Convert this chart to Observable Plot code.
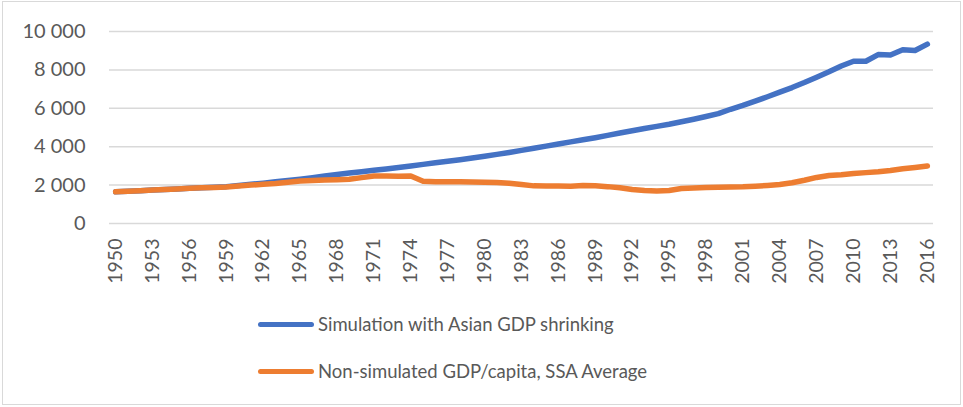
<!DOCTYPE html>
<html>
<head>
<meta charset="utf-8">
<script src="https://cdn.jsdelivr.net/npm/d3@7"></script>
<script src="https://cdn.jsdelivr.net/npm/@observablehq/plot@0.6"></script>
<style>
  html, body { margin: 0; padding: 0; background: #fff; }
  body { width: 963px; height: 407px; position: relative; overflow: hidden; font-family: Lato, "Open Sans", sans-serif; }
  #frame { position: absolute; left: 2px; top: 1px; width: 957px; height: 402px; border: 1px solid #d9d9d9; }
  #chart { position: absolute; left: 0; top: 0; }
  .leg { position: absolute; left: 258px; display: flex; align-items: center; font-size: 18.5px; color: #595959; }
  .leg .sw { width: 56px; height: 5px; border-radius: 3px; margin-right: 4px; }
</style>
</head>
<body>
<div id="frame"></div>
<div id="chart"></div>
<div class="leg" style="top:313px"><div class="sw" style="background:#4472C4"></div>Simulation with Asian GDP shrinking</div>
<div class="leg" style="top:360px"><div class="sw" style="background:#ED7D31"></div>Non-simulated GDP/capita, SSA Average</div>
<script>
const years = d3.range(1950, 2017);
const seriesNames = ["Simulation with Asian GDP shrinking", "Non-simulated GDP/capita, SSA Average"];
const simulated = [
  1650, 1680, 1710, 1740, 1770, 1800, 1830, 1860, 1890, 1920,
  1980, 2040, 2100, 2170, 2240, 2310, 2390, 2470, 2550, 2630,
  2700, 2770, 2840, 2920, 3000, 3080, 3160, 3240, 3320, 3410,
  3500, 3600, 3700, 3810, 3920, 4030, 4140, 4250, 4360, 4470,
  4590, 4710, 4830, 4950, 5060, 5170, 5300, 5430, 5570, 5720,
  5950, 6150, 6370, 6600, 6840, 7080, 7340, 7620, 7900, 8200,
  8450, 8450, 8800, 8780, 9050, 9010, 9340
];
const ssaAverage = [
  1650, 1680, 1710, 1740, 1770, 1800, 1830, 1860, 1880, 1900,
  1950, 2000, 2040, 2080, 2150, 2210, 2240, 2260, 2280, 2310,
  2390, 2470, 2480, 2460, 2470, 2200, 2180, 2180, 2170, 2160,
  2150, 2130, 2100, 2030, 1960, 1950, 1950, 1940, 1980, 1960,
  1920, 1860, 1770, 1720, 1690, 1720, 1820, 1850, 1880, 1890,
  1900, 1910, 1940, 1980, 2030, 2120, 2250, 2400, 2500, 2540,
  2600, 2650, 2690, 2760, 2850, 2920, 3000
];
const yTicks = [0, 2000, 4000, 6000, 8000, 10000];
const xTicks = d3.range(1950, 2017, 3);
const colors = ["#4472C4", "#ED7D31"];

const data = [];
years.forEach((y, i) => {
  data.push({year: y, value: simulated[i], series: seriesNames[0]});
  data.push({year: y, value: ssaAverage[i], series: seriesNames[1]});
});

const fmt = v => d3.format(",")(v).replace(/,/g, " ");

const chart = Plot.plot({
  width: 963,
  height: 300,
  marginTop: 31,
  marginBottom: 77,
  marginLeft: 109,
  marginRight: 30,
  style: {fontFamily: "Lato, 'Open Sans', sans-serif", color: "#595959", background: "transparent"},
  x: {domain: [1949.5, 2016.5]},
  y: {domain: [0, 10000]},
  color: {domain: seriesNames, range: colors},
  marks: [
    Plot.gridY(yTicks, {stroke: "#d9d9d9", strokeOpacity: 1, strokeWidth: 1.5}),
    Plot.axisY(yTicks, {tickSize: 0, tickPadding: 24, tickFormat: fmt, fontSize: 20, label: null, fill: "#595959"}),
    Plot.axisX(xTicks, {tickSize: 0, tickRotate: -90, tickPadding: 15, tickFormat: d => String(d), fontSize: 19.5, label: null, fill: "#595959"}),
    Plot.line(data, {x: "year", y: "value", stroke: "series", z: "series", strokeWidth: 5.5, strokeLinecap: "round", strokeLinejoin: "round"})
  ]
});
document.getElementById("chart").appendChild(chart);
</script>
</body>
</html>
